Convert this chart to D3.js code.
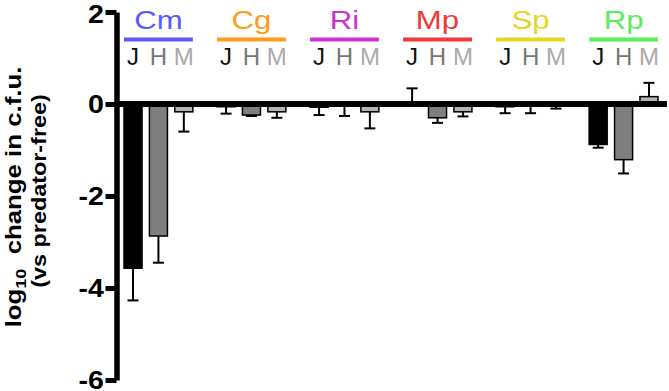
<!DOCTYPE html>
<html>
<head>
<meta charset="utf-8">
<script src="https://cdn.jsdelivr.net/npm/d3@7"></script>
<style>
  body { margin: 0; background: #fff; }
  text { font-family: "Liberation Sans", Arial, Helvetica, sans-serif; }
</style>
</head>
<body>
<svg id="chart" width="669" height="391"></svg>
<script>
// species (prey) and predators
var species = ["Cm", "Cg", "Ri", "Mp", "Sp", "Rp"]
var speciesColors = ["#5a5aff", "#ff9a1a", "#cc33cc", "#ee3a3a", "#e8d520", "#5aee5a"]
var predators = ["J", "H", "M"]
var predatorColors = ["#000000", "#7f7f7f", "#b5b5b5"]
var predatorLabelColors = ["#111111", "#777777", "#aaaaaa"]

// mean log10 change and error, one entry per species
var meanJ = [-3.57, -0.06, -0.07, 0.02, -0.06, -0.88]
var meanH = [-2.87, -0.24, -0.02, -0.30, -0.01, -1.21]
var meanM = [-0.17, -0.17, -0.17, -0.17, 0.00, 0.16]
var errJ = [0.70, 0.15, 0.17, 0.32, 0.14, 0.07]
var errH = [0.58, 0.02, 0.24, 0.11, 0.19, 0.30]
var errM = [0.43, 0.13, 0.36, 0.10, 0.10, 0.30]

var yTicks = [2, 0, -2, -4, -6]

var means = [meanJ, meanH, meanM]
var errs = [errJ, errH, errM]

var rows = []
species.forEach((s, i) => {
    predators.forEach((p, j) => {
        rows.push({"species": s, "pred": p, "pi": j, "mean": means[j][i], "err": errs[j][i]})
    })
})

const svg = d3.select("#chart")
const stretch = 1.2 // the original font is wider than Arial

var y = d3.scaleLinear().domain([-6, 2]).range([380, 12])
var x0 = d3.scaleBand().domain(species).range([124, 658]).paddingInner(0.26).paddingOuter(0)
var x1 = d3.scaleBand().domain(predators).range([0, x0.bandwidth()]).paddingInner(0.29).paddingOuter(0)

// bars
svg.append("g").selectAll("rect")
    .data(rows)
    .join("rect")
    .attr("x", d => x0(d.species) + x1(d.pred))
    .attr("width", x1.bandwidth())
    .attr("y", d => y(Math.max(0, d.mean)))
    .attr("height", d => Math.abs(y(d.mean) - y(0)))
    .attr("fill", d => predatorColors[d.pi])
    .attr("stroke", "#000")
    .attr("stroke-width", 1.5)

// error bars (one-sided, away from zero)
var capW = 11
var eb = svg.append("g").selectAll("g")
    .data(rows)
    .join("g")
    .attr("stroke", "#000")
    .attr("stroke-width", 2)
function errEnd (d) {
    return d.mean > 0 ? d.mean + d.err : d.mean - d.err
}
eb.append("line")
    .attr("x1", d => x0(d.species) + x1(d.pred) + x1.bandwidth() / 2)
    .attr("x2", d => x0(d.species) + x1(d.pred) + x1.bandwidth() / 2)
    .attr("y1", d => y(d.mean))
    .attr("y2", d => y(errEnd(d)))
eb.append("line")
    .attr("x1", d => x0(d.species) + x1(d.pred) + x1.bandwidth() / 2 - capW / 2)
    .attr("x2", d => x0(d.species) + x1(d.pred) + x1.bandwidth() / 2 + capW / 2)
    .attr("y1", d => y(errEnd(d)))
    .attr("y2", d => y(errEnd(d)))

// zero line
svg.append("line")
    .attr("x1", 116).attr("x2", 667)
    .attr("y1", y(0)).attr("y2", y(0))
    .attr("stroke", "#000")
    .attr("stroke-width", 6)

// y axis
var yAxis = svg.append("g")
    .attr("transform", "translate(116.5,0)")
    .call(d3.axisLeft(y).tickValues(yTicks).tickSize(11).tickSizeOuter(0).tickPadding(1).tickFormat(d => String(d)))
yAxis.select(".domain").attr("stroke-width", 5.5)
yAxis.selectAll(".tick line").attr("stroke-width", 5)
yAxis.selectAll(".tick text")
    .attr("x", -12.5 / 1.12)
    .attr("dy", d => d == 2 ? "0.42em" : "0.34em")
    .attr("transform", "scale(1.12,1)")
    .attr("font-size", 25.5)
    .attr("font-weight", "bold")
    .attr("fill", "#000")
    .attr("font-family", "'Liberation Sans', Arial, sans-serif")

// y label
var ylab = svg.append("text")
    .attr("transform", `translate(20.5,197) rotate(-90) scale(${stretch},1)`)
    .attr("text-anchor", "middle")
    .attr("font-size", 21.5)
    .attr("font-weight", "bold")
ylab.append("tspan").text("log")
ylab.append("tspan").text("10").attr("font-size", 15).attr("dy", 5)
ylab.append("tspan").text(" change in c.f.u.").attr("dy", -5).attr("dx", 6)
svg.append("text")
    .attr("transform", `translate(46,191) rotate(-90) scale(${stretch},1)`)
    .attr("text-anchor", "middle")
    .attr("font-size", 19.5)
    .attr("font-weight", "bold")
    .text("(vs predator-free)")

// species headers
var hdr = svg.append("g").selectAll("g")
    .data(species)
    .join("g")
    .attr("transform", d => `translate(${x0(d)},0)`)
hdr.append("text")
    .attr("transform", `translate(${x0.bandwidth() / 2},29) scale(${stretch},1)`)
    .attr("text-anchor", "middle")
    .attr("font-size", 26)
    .attr("fill", (d, i) => speciesColors[i])
    .text(d => d)
hdr.append("line")
    .attr("x1", 0).attr("x2", x0.bandwidth())
    .attr("y1", 39.5).attr("y2", 39.5)
    .attr("stroke", (d, i) => speciesColors[i])
    .attr("stroke-width", 4)
hdr.selectAll(".pl")
    .data(predators)
    .join("text")
    .attr("class", "pl")
    .attr("transform", p => `translate(${x1(p) + x1.bandwidth() / 2},65)`)
    .attr("text-anchor", "middle")
    .attr("font-size", 24)
    .attr("fill", (p, i) => predatorLabelColors[i])
    .text(p => p)
</script>
</body>
</html>
